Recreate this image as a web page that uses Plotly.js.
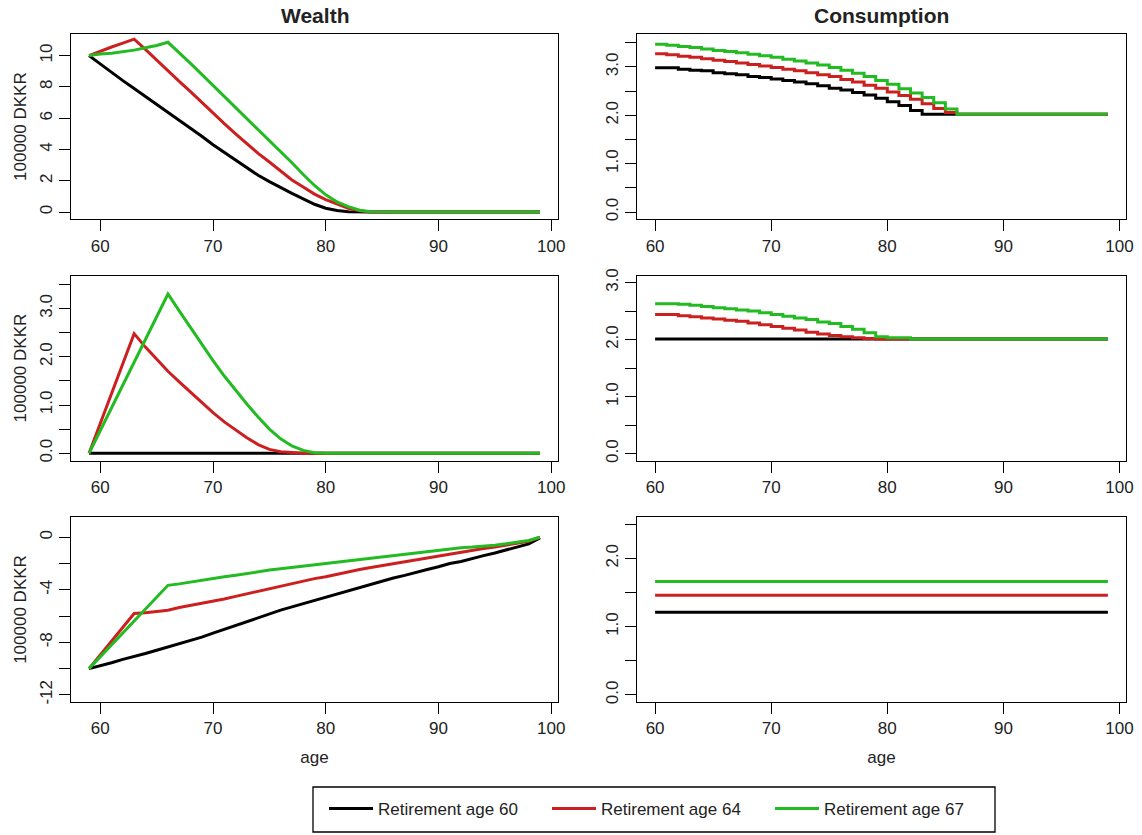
<!DOCTYPE html>
<html>
<head>
<meta charset="utf-8">
<script src="https://cdn.plot.ly/plotly-3.0.1.min.js"></script>
<style>html,body{margin:0;padding:0;background:#fff}#chart{width:1142px;height:835px}</style>
</head>
<body>
<div id="chart"></div>
<script>
// ---------- data ----------
const seriesNames = ["Retirement age 60", "Retirement age 64", "Retirement age 67"];
const colTitles = ["Wealth", "Consumption"];
const yAxisLabel = "100000 DKKR";
const xAxisLabel = "age";

const agesW = [59,60,61,62,63,64,65,66,67,68,69,70,71,72,73,74,75,76,77,78,79,80,81,82,83,84,85,86,87,88,89,90,91,92,93,94,95,96,97,98,99];
const agesC = [60,61,62,63,64,65,66,67,68,69,70,71,72,73,74,75,76,77,78,79,80,81,82,83,84,85,86,87,88,89,90,91,92,93,94,95,96,97,98,99];

// Row 1 - wealth
const w1_60 = [10.0,9.45,8.9,8.4,7.9,7.4,6.9,6.4,5.9,5.35,4.85,4.3,3.8,3.3,2.8,2.35,1.95,1.55,1.2,0.85,0.5,0.25,0.1,0.03,0,0,0,0,0,0,0,0,0,0,0,0,0,0,0,0,0];
const w1_64 = [10.0,10.3,10.55,10.8,11.05,10.4,9.7,9.05,8.35,7.7,7.0,6.35,5.65,5.0,4.35,3.75,3.2,2.6,2.05,1.6,1.15,0.8,0.5,0.25,0.08,0,0,0,0,0,0,0,0,0,0,0,0,0,0,0,0];
const w1_67 = [10.0,10.1,10.15,10.25,10.35,10.5,10.65,10.85,10.2,9.5,8.8,8.1,7.4,6.7,6.0,5.3,4.6,3.9,3.15,2.4,1.7,1.1,0.65,0.35,0.12,0.02,0,0,0,0,0,0,0,0,0,0,0,0,0,0,0];
// Row 1 - consumption
const c1_60 = [2.98,2.98,2.95,2.93,2.92,2.88,2.86,2.84,2.8,2.78,2.75,2.72,2.69,2.65,2.61,2.56,2.52,2.47,2.42,2.35,2.28,2.2,2.1,2.02,2.02,2.02,2.02,2.02,2.02,2.02,2.02,2.02,2.02,2.02,2.02,2.02,2.02,2.02,2.02,2.02];
const c1_64 = [3.27,3.25,3.22,3.2,3.17,3.14,3.11,3.08,3.05,3.02,2.99,2.95,2.92,2.88,2.84,2.8,2.74,2.69,2.62,2.56,2.48,2.41,2.33,2.24,2.14,2.06,2.02,2.02,2.02,2.02,2.02,2.02,2.02,2.02,2.02,2.02,2.02,2.02,2.02,2.02];
const c1_67 = [3.47,3.45,3.42,3.4,3.37,3.34,3.32,3.29,3.26,3.23,3.2,3.16,3.12,3.08,3.04,2.99,2.93,2.87,2.8,2.72,2.64,2.55,2.46,2.37,2.26,2.13,2.02,2.02,2.02,2.02,2.02,2.02,2.02,2.02,2.02,2.02,2.02,2.02,2.02,2.02];

// Row 2 - wealth
const w2_60 = [0,0,0,0,0,0,0,0,0,0,0,0,0,0,0,0,0,0,0,0,0,0,0,0,0,0,0,0,0,0,0,0,0,0,0,0,0,0,0,0,0];
const w2_64 = [0,0.62,1.24,1.86,2.48,2.2,1.95,1.7,1.48,1.26,1.04,0.84,0.65,0.48,0.32,0.18,0.08,0.03,0.01,0,0,0,0,0,0,0,0,0,0,0,0,0,0,0,0,0,0,0,0,0,0];
const w2_67 = [0,0.47,0.94,1.41,1.88,2.35,2.82,3.3,2.95,2.6,2.25,1.92,1.6,1.3,1.02,0.75,0.5,0.3,0.15,0.06,0.01,0,0,0,0,0,0,0,0,0,0,0,0,0,0,0,0,0,0,0,0];
// Row 2 - consumption
const c2_60 = [2.01,2.01,2.01,2.01,2.01,2.01,2.01,2.01,2.01,2.01,2.01,2.01,2.01,2.01,2.01,2.01,2.01,2.01,2.01,2.01,2.01,2.01,2.01,2.01,2.01,2.01,2.01,2.01,2.01,2.01,2.01,2.01,2.01,2.01,2.01,2.01,2.01,2.01,2.01,2.01];
const c2_64 = [2.44,2.44,2.42,2.4,2.38,2.36,2.34,2.32,2.29,2.26,2.23,2.2,2.17,2.13,2.1,2.07,2.05,2.03,2.02,2.01,2.01,2.01,2.01,2.01,2.01,2.01,2.01,2.01,2.01,2.01,2.01,2.01,2.01,2.01,2.01,2.01,2.01,2.01,2.01,2.01];
const c2_67 = [2.63,2.63,2.62,2.6,2.58,2.56,2.54,2.52,2.5,2.47,2.44,2.41,2.38,2.35,2.31,2.28,2.23,2.18,2.12,2.05,2.03,2.03,2.01,2.01,2.01,2.01,2.01,2.01,2.01,2.01,2.01,2.01,2.01,2.01,2.01,2.01,2.01,2.01,2.01,2.01];

// Row 3 - wealth
const w3_60 = [-10,-9.8,-9.55,-9.3,-9.1,-8.85,-8.6,-8.35,-8.15,-7.85,-7.6,-7.3,-7.0,-6.75,-6.45,-6.1,-5.8,-5.55,-5.3,-5.05,-4.8,-4.55,-4.3,-4.1,-3.85,-3.6,-3.35,-3.1,-2.9,-2.65,-2.45,-2.25,-2.0,-1.85,-1.6,-1.4,-1.2,-0.95,-0.75,-0.5,-0.05];
const w3_64 = [-10,-8.95,-7.9,-6.85,-5.8,-5.75,-5.65,-5.55,-5.35,-5.2,-5.05,-4.9,-4.7,-4.5,-4.3,-4.1,-3.9,-3.7,-3.5,-3.35,-3.15,-3.0,-2.8,-2.6,-2.45,-2.3,-2.15,-2.0,-1.85,-1.7,-1.55,-1.4,-1.25,-1.1,-1.0,-0.85,-0.75,-0.6,-0.45,-0.3,0];
const w3_67 = [-10,-9.09,-8.19,-7.28,-6.37,-5.47,-4.56,-3.66,-3.55,-3.4,-3.3,-3.15,-3.0,-2.9,-2.75,-2.6,-2.5,-2.4,-2.3,-2.2,-2.1,-2.0,-1.9,-1.8,-1.7,-1.6,-1.5,-1.4,-1.3,-1.2,-1.05,-0.95,-0.9,-0.8,-0.75,-0.7,-0.6,-0.5,-0.4,-0.25,0];
// Row 3 - consumption
const c3_60 = [1.21,1.21,1.21,1.21,1.21,1.21,1.21,1.21,1.21,1.21,1.21,1.21,1.21,1.21,1.21,1.21,1.21,1.21,1.21,1.21,1.21,1.21,1.21,1.21,1.21,1.21,1.21,1.21,1.21,1.21,1.21,1.21,1.21,1.21,1.21,1.21,1.21,1.21,1.21,1.21];
const c3_64 = [1.46,1.46,1.46,1.46,1.46,1.46,1.46,1.46,1.46,1.46,1.46,1.46,1.46,1.46,1.46,1.46,1.46,1.46,1.46,1.46,1.46,1.46,1.46,1.46,1.46,1.46,1.46,1.46,1.46,1.46,1.46,1.46,1.46,1.46,1.46,1.46,1.46,1.46,1.46,1.46];
const c3_67 = [1.66,1.66,1.66,1.66,1.66,1.66,1.66,1.66,1.66,1.66,1.66,1.66,1.66,1.66,1.66,1.66,1.66,1.66,1.66,1.66,1.66,1.66,1.66,1.66,1.66,1.66,1.66,1.66,1.66,1.66,1.66,1.66,1.66,1.66,1.66,1.66,1.66,1.66,1.66,1.66];

// tick values / labels
const xTicks = [60,70,80,90,100];
const yTicksW1 = [0,2,4,6,8,10];
const yTextW1 = ["0","2","4","6","8","10"];
const yTicksHalf = [0,0.5,1,1.5,2,2.5,3,3.5];
const yTextHalf = ["0.0","","1.0","","2.0","","3.0",""];
const yTicksW3 = [-12,-10,-8,-6,-4,-2,0];
const yTextW3 = ["-12","","-8","","-4","","0"];

// ---------- style ----------
const colors = ["#000000", "#CC2020", "#22BB22"];
const FONT = "Liberation Sans, Arial, Helvetica, sans-serif";
const W = 1142, H = 835;
const box = {
  L: [71, 558], R: [637, 1126],
  r1: [34, 219.3], r2: [275.7, 460.5], r3: [517.3, 701.7]
};
const dx = a => [a[0] / W, a[1] / W];
const dy = a => [1 - a[1] / H, 1 - a[0] / H];

const panels = [
  {x: agesW, ys: [w1_60, w1_64, w1_67], shape: "linear", col: "L", row: "r1"},
  {x: agesC, ys: [c1_60, c1_64, c1_67], shape: "hv", col: "R", row: "r1"},
  {x: agesW, ys: [w2_60, w2_64, w2_67], shape: "linear", col: "L", row: "r2"},
  {x: agesC, ys: [c2_60, c2_64, c2_67], shape: "hv", col: "R", row: "r2"},
  {x: agesW, ys: [w3_60, w3_64, w3_67], shape: "linear", col: "L", row: "r3"},
  {x: agesC, ys: [c3_60, c3_64, c3_67], shape: "hv", col: "R", row: "r3"}
];

const traces = [];
panels.forEach((p, i) => {
  const sfx = i === 0 ? "" : String(i + 1);
  p.ys.forEach((y, k) => {
    traces.push({
      type: "scatter", mode: "lines", x: p.x, y: y,
      xaxis: "x" + sfx, yaxis: "y" + sfx,
      name: seriesNames[k], legendgroup: "g" + k, showlegend: i === 0,
      line: {color: colors[k], width: 3, shape: p.shape},
      hoverinfo: "x+y+name"
    });
  });
});

const baseAxis = {
  showline: true, linecolor: "#000", linewidth: 1.3, mirror: true,
  ticks: "outside", ticklen: 11, tickwidth: 1.3, tickcolor: "#000",
  showgrid: false, zeroline: false,
  tickfont: {family: FONT, size: 17, color: "#222"}
};

const yRanges = [[-0.46, 11.38], [-0.15, 3.68], [-0.15, 3.68], [-0.12, 3.12], [-12.52, 1.52], [-0.1, 2.6]];
const yTickV = [yTicksW1, yTicksHalf, yTicksHalf, yTicksHalf, yTicksW3, yTicksHalf];
const yTickT = [yTextW1, yTextHalf, yTextHalf, yTextHalf, yTextW3, yTextHalf];

const layout = {
  width: W, height: H,
  margin: {l: 0, r: 0, t: 0, b: 0},
  paper_bgcolor: "#fff", plot_bgcolor: "#fff",
  font: {family: FONT, size: 17, color: "#222"},
  showlegend: true,
  legend: {
    orientation: "h", x: 324 / W, xanchor: "left", y: 1 - 809 / H, yanchor: "middle",
    bgcolor: "rgba(0,0,0,0)", borderwidth: 0,
    font: {family: FONT, size: 17, color: "#222"},
    itemwidth: 44, entrywidth: 164, entrywidthmode: "pixels"
  },
  shapes: [{
    type: "rect", xref: "paper", yref: "paper",
    x0: 313 / W, x1: 995 / W, y0: 1 - 832 / H, y1: 1 - 787 / H,
    line: {color: "#000", width: 1.3}, fillcolor: "rgba(0,0,0,0)", layer: "below"
  }],
  annotations: [
    {text: "<b>" + colTitles[0] + "</b>", xref: "paper", yref: "paper", x: (box.L[0] + box.L[1]) / 2 / W, y: 1 - 15 / H,
     xanchor: "center", yanchor: "middle", showarrow: false, font: {family: FONT, size: 21, color: "#222"}},
    {text: "<b>" + colTitles[1] + "</b>", xref: "paper", yref: "paper", x: (box.R[0] + box.R[1]) / 2 / W, y: 1 - 15 / H,
     xanchor: "center", yanchor: "middle", showarrow: false, font: {family: FONT, size: 21, color: "#222"}}
  ],
  hovermode: "closest"
};

panels.forEach((p, i) => {
  const sfx = i === 0 ? "" : String(i + 1);
  const xa = Object.assign({}, baseAxis, {
    domain: dx(box[p.col]), anchor: "y" + sfx,
    range: p.col === "L" ? [57.4, 100.6] : [58.44, 100.56],
    tickmode: "array", tickvals: xTicks, ticktext: xTicks.map(String)
  });
  if (p.row === "r3") xa.title = {text: xAxisLabel, font: {family: FONT, size: 17, color: "#222"}, standoff: 13};
  const ya = Object.assign({}, baseAxis, {
    domain: dy(box[p.row]), anchor: "x" + sfx,
    range: yRanges[i], tickmode: "array", tickvals: yTickV[i], ticktext: yTickT[i],
    tickangle: -90
  });
  if (p.col === "L") ya.title = {text: yAxisLabel, font: {family: FONT, size: 17, color: "#222"}, standoff: 6};
  layout["xaxis" + sfx] = xa;
  layout["yaxis" + sfx] = ya;
});

Plotly.newPlot("chart", traces, layout, {displayModeBar: false, staticPlot: false});
</script>
</body>
</html>
